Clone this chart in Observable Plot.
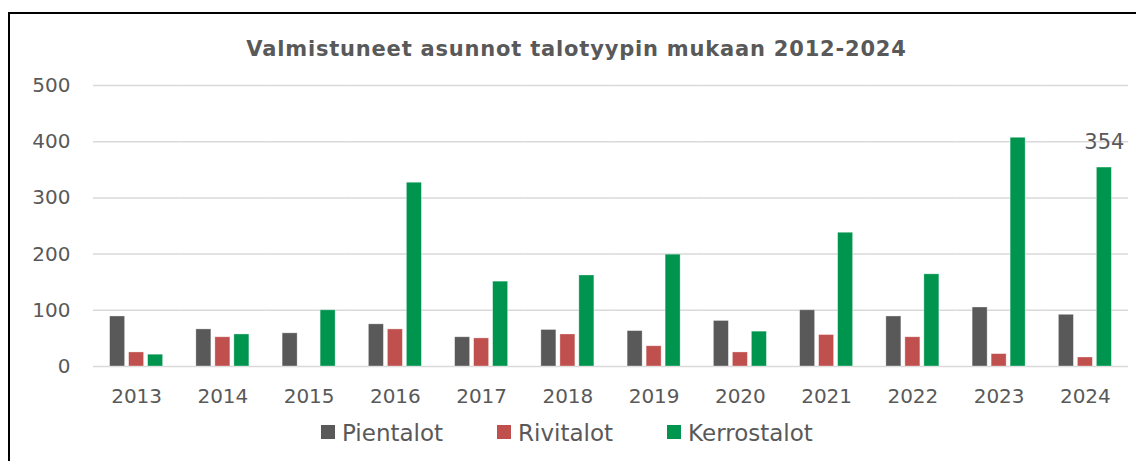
<!DOCTYPE html>
<html>
<head>
<meta charset="utf-8">
<script src="https://cdn.jsdelivr.net/npm/d3@7"></script>
<script src="https://cdn.jsdelivr.net/npm/@observablehq/plot@0.6"></script>
<style>
  html, body { margin: 0; padding: 0; background: #fff; }
  #wrap { position: relative; width: 1136px; height: 461px; overflow: hidden; font-family: "DejaVu Sans", sans-serif; color: #595959; }
  #frame { position: absolute; left: 8px; top: 12px; width: 1300px; height: 600px; border-left: 2px solid #000; border-top: 2px solid #000; box-sizing: border-box; }
  #title { position: absolute; left: 9px; width: 1135px; top: 39px; text-align: center; font-weight: bold; font-size: 21px; line-height: 21px; letter-spacing: 0.8px; color: #595959; white-space: nowrap; }
  #chart { position: absolute; left: 0; top: 70px; }
  #legend { position: absolute; left: 321px; top: 422px; display: flex; gap: 54px; font-size: 23px; line-height: 23px; color: #595959; white-space: nowrap; }
  .item { display: flex; align-items: flex-start; }
  .sw { width: 14px; height: 14px; margin-top: 3px; margin-right: 7px; }
</style>
</head>
<body>
<div id="wrap">
  <div id="frame"></div>
  <div id="title"></div>
  <div id="chart"></div>
  <div id="legend"></div>
</div>
<script>
const titleText = "Valmistuneet asunnot talotyypin mukaan 2012-2024";
const years = [2013, 2014, 2015, 2016, 2017, 2018, 2019, 2020, 2021, 2022, 2023, 2024];
const series = ["Pientalot", "Rivitalot", "Kerrostalot"];
const pientalot   = [89, 66, 59, 75, 52, 65, 63, 81, 100, 89, 105, 92];
const rivitalot   = [25, 52, 0, 66, 50, 57, 36, 25, 56, 52, 22, 16];
const kerrostalot = [21, 57, 100, 327, 151, 162, 199, 62, 238, 164, 407, 354];
const colors = ["#595959", "#C0504D", "#00954F"];
const yTicks = [0, 100, 200, 300, 400, 500];
const labelled = [{year: 2024, series: "Kerrostalot"}];

const valuesBySeries = {Pientalot: pientalot, Rivitalot: rivitalot, Kerrostalot: kerrostalot};
const data = years.flatMap((yr, i) => series.map(s => ({year: yr, series: s, value: valuesBySeries[s][i]})));
const labelData = data.filter(d => labelled.some(l => l.year === d.year && l.series === d.series));

document.getElementById("title").textContent = titleText;

const chart = Plot.plot({
  width: 1136,
  height: 350,
  marginLeft: 93,
  marginRight: 8,
  marginTop: 15,
  marginBottom: 54,
  style: {fontFamily: "DejaVu Sans, sans-serif", fontSize: "20px", color: "#595959", background: "transparent", overflow: "visible"},
  fx: {domain: years, padding: 0, round: false, label: null},
  x: {domain: series, paddingInner: 0.21, paddingOuter: 0.875, round: false, axis: null},
  y: {domain: [0, 500], ticks: yTicks, label: null},
  color: {domain: series, range: colors},
  marks: [
    Plot.gridY(yTicks, {stroke: "#d9d9d9", strokeOpacity: 1, strokeWidth: 1.5}),
    Plot.barY(data, {fx: "year", x: "series", y: "value", fill: "series", stroke: "#ffffff", strokeOpacity: 0.45, strokeWidth: 0.75}),
    Plot.text(labelData, {fx: "year", x: "series", y: "value", text: d => String(d.value), dy: -25, fontSize: 21, fill: "#595959"}),
    Plot.axisY({ticks: yTicks, tickSize: 0, tickPadding: 23, fontSize: 20, label: null}),
    Plot.axisFx({anchor: "bottom", tickSize: 0, tickPadding: 22, fontSize: 20, label: null, tickFormat: d => String(d)})
  ]
});
document.getElementById("chart").appendChild(chart);

const legend = document.getElementById("legend");
series.forEach((s, i) => {
  const item = document.createElement("div");
  item.className = "item";
  const sw = document.createElement("span");
  sw.className = "sw";
  sw.style.background = colors[i];
  const t = document.createElement("span");
  t.textContent = s;
  item.appendChild(sw);
  item.appendChild(t);
  legend.appendChild(item);
});
</script>
</body>
</html>
